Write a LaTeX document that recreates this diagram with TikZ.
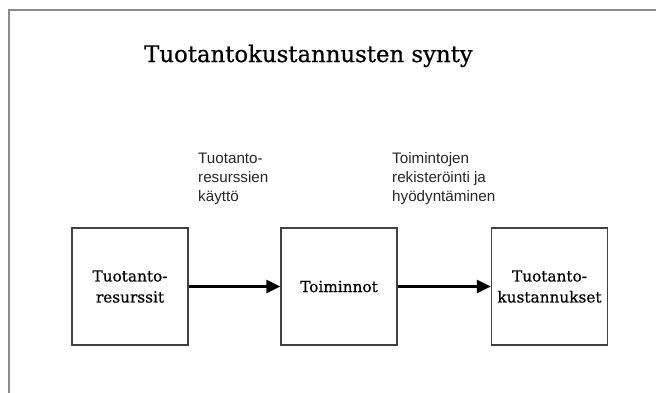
\documentclass[tikz,border=0pt]{standalone}
\usepackage{fontspec}
\setmainfont{DejaVu Serif}
\newfontfamily\heavyserif[FakeBold=0.6]{DejaVu Serif}
\newfontfamily\labelfont{Liberation Sans}
\usetikzlibrary{arrows.meta}
\begin{document}
\begin{tikzpicture}[x=1pt,y=-1pt,
  box/.style={draw=black!75, line width=1.3pt, minimum width=116pt, minimum height=117pt,
    inner sep=0pt, align=center, font=\heavyserif\fontsize{15.3}{21}\selectfont},
  lbl/.style={anchor=north west, align=left, inner sep=0pt,
    font=\labelfont\fontsize{15.2}{19}\selectfont, text=black!85},
  flow/.style={line width=2.6pt, -{Triangle[length=14pt,width=13pt]}},
  frame/.style={draw=black!45, line width=1.8pt}]
\useasboundingbox (0,0) rectangle (656,392);
\draw[frame] (9,400) -- (9,10) -- (670,10);
\node[anchor=base west, inner sep=0pt, font=\heavyserif\fontsize{22.8}{26}\selectfont] (title) at (144,62) {Tuotantokustannusten synty};
\node[box] (b1) at (130,286.5) {Tuotanto-\\resurssit};
\node[box] (b2) at (339,286.5) {Toiminnot};
\node[box] (b3) at (549.5,286.5) {Tuotanto-\\kustannukset};
\node[lbl] (l1) at (198,152.5) {Tuotanto-\\resurssien\\käyttö};
\node[lbl] (l2) at (392,152.5) {Toimintojen\\rekisteröinti ja\\hyödyntäminen};
\draw[flow] (b1.east) -- (b2.west);
\draw[flow] (b2.east) -- (b3.west);
\end{tikzpicture}
\end{document}
